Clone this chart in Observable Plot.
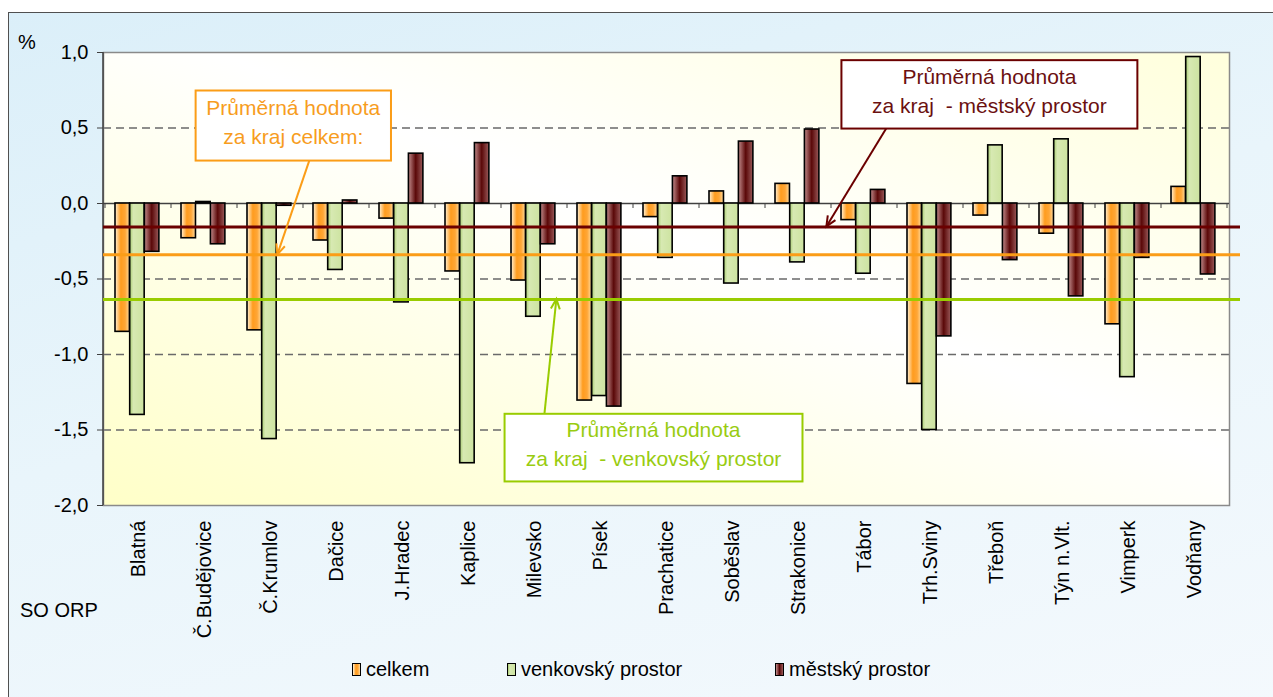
<!DOCTYPE html>
<html><head><meta charset="utf-8">
<script src="https://cdn.jsdelivr.net/npm/d3@7"></script>
<script src="https://cdn.jsdelivr.net/npm/@observablehq/plot@0.6"></script>
<style>
html,body{margin:0;padding:0;}
body{width:1273px;height:697px;overflow:hidden;position:relative;font-family:"Liberation Sans",Arial,sans-serif;background:#fff;}
#frame{position:absolute;left:8px;top:12px;width:1280px;height:700px;border:1px solid #505050;box-sizing:border-box;background:linear-gradient(165deg,#dbeff9 0%,#e9f5fb 45%,#f4f9fd 100%);}
#chart{position:absolute;left:0;top:0;width:1273px;height:697px;}
#chart svg{max-width:none !important;}
.lbl{position:absolute;font-size:20px;color:#000;white-space:nowrap;line-height:1;}
.sw{position:absolute;width:7px;height:11px;border:1.5px solid #000;}
</style>
</head><body>
<div id="frame"></div>
<div id="chart"></div>
<div class="lbl" style="left:18px;top:32px;">%</div>
<div class="lbl" style="left:20px;top:600px;">SO ORP</div>
<div id="legend"></div>
<script>
const categories = ["Blatná","Č.Budějovice","Č.Krumlov","Dačice","J.Hradec","Kaplice","Milevsko","Písek","Prachatice","Soběslav","Strakonice","Tábor","Trh.Sviny","Třeboň","Týn n.Vlt.","Vimperk","Vodňany"];
const celkem   = [-0.85,-0.23,-0.84,-0.245,-0.10,-0.45,-0.51,-1.305,-0.09,0.08,0.13,-0.11,-1.195,-0.08,-0.20,-0.80,0.11];
const venkovsky= [-1.40,0.01,-1.56,-0.44,-0.655,-1.72,-0.75,-1.275,-0.36,-0.53,-0.39,-0.465,-1.50,0.385,0.425,-1.15,0.97];
const mestsky  = [-0.32,-0.27,-0.015,0.02,0.33,0.40,-0.27,-1.345,0.18,0.41,0.49,0.09,-0.88,-0.375,-0.615,-0.36,-0.47];
const seriesNames = ["celkem","venkovský prostor","městský prostor"];
const averages = [-0.34,-0.635,-0.155];
const yTicks = [1,0.5,0,-0.5,-1,-1.5,-2];
const colors = ["#fb9d17","#99cc00","#6b0000"];
const textColors = ["#f79d1e","#99cc11","#6b1010"];

const rows = [];
categories.forEach((c,i)=>{
  rows.push({cat:c,series:0,value:celkem[i]});
  rows.push({cat:c,series:1,value:venkovsky[i]});
  rows.push({cat:c,series:2,value:mestsky[i]});
});
const avgRows = averages.map((v,i)=>({series:i,value:v,color:colors[i]}));

// annotation boxes anchored in data space (category + fraction of band, y value)
const notes = [
  {s:0, lines:["Průměrná hodnota","za kraj celkem:"], cat:"Č.Krumlov", f:0.853, wb:2.96, y1:0.745, y2:0.281,
   fromCat:"Dačice", fromF:0.095, tipCat:"Č.Krumlov", tipF:0.612},
  {s:2, lines:["Průměrná hodnota","za kraj  - městský prostor"], cat:"Třeboň", f:0.40, wb:4.484, y1:0.946, y2:0.493,
   fromCat:"Tábor", fromF:0.836, tipCat:"Strakonice", tipF:0.93},
  {s:1, lines:["Průměrná hodnota","za kraj  - venkovský prostor"], cat:"Prachatice", f:0.311, wb:4.514, y1:-1.396, y2:-1.844,
   fromCat:"Milevsko", fromF:0.658, tipCat:"Milevsko", tipF:0.839, fromTop:true}
];

const W = 1273, H = 697, mL = 103, mR = 44, mT = 52, mB = 192;
const bw = (W - mL - mR) / categories.length;
const barW = bw * 0.222;
const off0 = bw * 0.151;

function defs() {
  const g = d3.create("svg:defs");
  const lg = (id, stops, x2=1, y1=0, y2=0) => {
    const e = g.append("linearGradient").attr("id", id).attr("x1",0).attr("y1",y1).attr("x2",x2).attr("y2",y2);
    stops.forEach(([o,c]) => e.append("stop").attr("offset",o).attr("stop-color",c));
  };
  lg("gO", [[0,"#fff3da"],[0.4,"#ff9c1e"],[0.7,"#ffa636"],[1,"#ffdca0"]]);
  lg("gG", [[0,"#a9cd72"],[0.25,"#d7e9b2"],[1,"#cde3a0"]]);
  lg("gB", [[0,"#c38d8d"],[0.5,"#5a0808"],[1,"#9a5a5a"]]);
  lg("gBg", [[0,"#ffffc8"],[0.55,"#ffffff"],[1,"#ffffdc"]], 1, 1, 0);
  return g.node();
}

function extras(index, scales, values, dim) {
  const x = scales.x, y = scales.y;
  const g = d3.create("svg:g");
  g.append("line").attr("x1", dim.marginLeft).attr("x2", dim.marginLeft)
    .attr("y1", dim.marginTop).attr("y2", dim.height - dim.marginBottom)
    .attr("stroke", "#404040").attr("stroke-width", 1.5);
  const bounds = categories.map(c => x(c)).concat([x(categories[categories.length-1]) + x.bandwidth()]);
  g.selectAll("line.t").data(bounds).join("line")
    .attr("x1", d=>d).attr("x2", d=>d).attr("y1", y(0)).attr("y2", y(0)+5)
    .attr("stroke","#404040").attr("stroke-width",1);
  return g.node();
}

function annotations(index, scales, values, dim) {
  const x = scales.x, y = scales.y, b = x.bandwidth();
  const g = d3.create("svg:g").attr("font-family", '"Liberation Sans",Arial,sans-serif');
  notes.forEach(n => {
    const cx = x(n.cat) + b * n.f, w = b * n.wb;
    const top = y(n.y1), bot = y(n.y2);
    const col = colors[n.s], tc = textColors[n.s];
    const fx = x(n.fromCat) + b * n.fromF, fy = n.fromTop ? top : bot;
    const tx = x(n.tipCat) + b * n.tipF, ty = y(averages[n.s]);
    const ang = Math.atan2(ty - fy, tx - fx), L = 11, a = 0.42;
    g.append("line").attr("x1",fx).attr("y1",fy).attr("x2",tx).attr("y2",ty)
      .attr("stroke",col).attr("stroke-width",2);
    g.append("path").attr("d", `M${tx - L*Math.cos(ang-a)},${ty - L*Math.sin(ang-a)}L${tx},${ty}L${tx - L*Math.cos(ang+a)},${ty - L*Math.sin(ang+a)}`)
      .attr("fill","none").attr("stroke",col).attr("stroke-width",2);
    g.append("rect").attr("x", cx - w/2).attr("y", top).attr("width", w).attr("height", bot - top)
      .attr("fill","#fff").attr("stroke",col).attr("stroke-width",2);
    n.lines.forEach((t,i) => {
      g.append("text").attr("x", cx).attr("y", top + (bot-top) * (0.345 + i*0.425))
        .attr("text-anchor","middle").attr("font-size",21).attr("fill",tc)
        .style("white-space","pre").text(t);
    });
  });
  return g.node();
}

const fmt = d => d3.format(".1f")(d).replace(".", ",").replace("−", "-");
const barMark = (s, fill) => Plot.barY(rows.filter(r => r.series === s), {
  x: "cat", y: "value", fill, stroke: "#000", strokeWidth: 1.6,
  insetLeft: off0 + s * barW, insetRight: bw - off0 - (s + 1) * barW
});

const chart = Plot.plot({
  width: W, height: H, marginLeft: mL, marginRight: mR, marginTop: mT, marginBottom: mB,
  style: {background: "transparent", fontFamily: '"Liberation Sans",Arial,sans-serif', overflow: "visible", color: "#000", maxWidth: "none"},
  x: {type: "band", domain: categories, padding: 0, label: null},
  y: {domain: [-2, 1], label: null},
  color: {type: "identity"},
  marks: [
    defs,
    Plot.frame({fill: "url(#gBg)", stroke: null}),
    Plot.ruleY([0.5, -0.5, -1, -1.5], {stroke: "#6a6a6a", strokeWidth: 1.3, strokeDasharray: "8,5"}),
    Plot.frame({stroke: "#8a8a8a", strokeWidth: 1.5}),
    Plot.ruleY([0], {stroke: "#404040", strokeWidth: 1.5}),
    barMark(0, "url(#gO)"),
    barMark(1, "url(#gG)"),
    barMark(2, "url(#gB)"),
    extras,
    Plot.ruleY(avgRows, {y: "value", stroke: "color", strokeWidth: 3, insetRight: -11}),
    Plot.axisY({ticks: yTicks, tickFormat: fmt, tickSize: 6, tickPadding: 9, fontSize: 20, stroke: "#404040"}),
    Plot.axisX({tickSize: 0, tickRotate: -90, tickPadding: 15, fontSize: 20}),
    annotations
  ]
});
chart.style.position = "absolute"; chart.style.left = "0px"; chart.style.top = "0px";
document.getElementById("chart").appendChild(chart);

const legend = document.getElementById("legend");
const swGrad = ["linear-gradient(90deg,#fff3da,#ff9c1e 40%,#ffa636 70%,#ffdca0)",
                "linear-gradient(90deg,#a9cd72,#d7e9b2 25%,#cde3a0)",
                "linear-gradient(90deg,#c38d8d,#5a0808 50%,#9a5a5a)"];
const legendX = [352, 507, 775];
seriesNames.forEach((name, i) => {
  const sw = document.createElement("div");
  sw.className = "sw"; sw.style.left = legendX[i] + "px"; sw.style.top = "663px"; sw.style.background = swGrad[i];
  legend.appendChild(sw);
  const t = document.createElement("div");
  t.className = "lbl"; t.style.left = (legendX[i] + 14) + "px"; t.style.top = "659px"; t.textContent = name;
  legend.appendChild(t);
});
</script>
</body></html>
